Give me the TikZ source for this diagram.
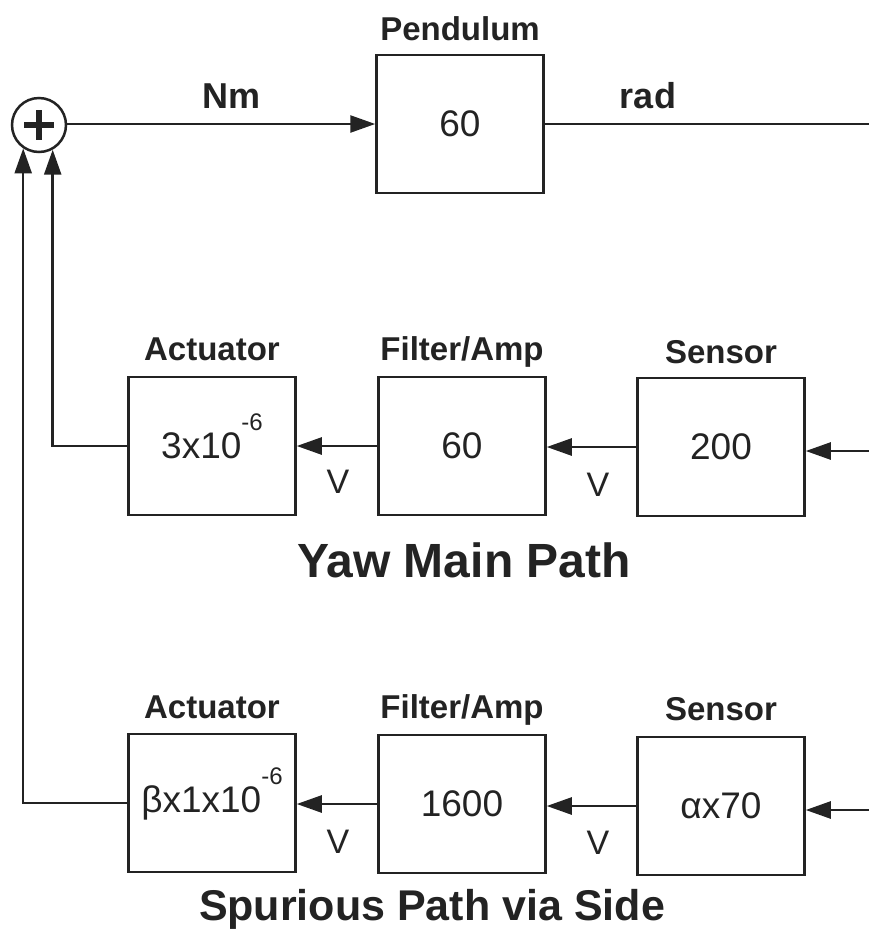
\documentclass[tikz,border=0pt]{standalone}
\usepackage{fontspec}
\setmainfont{Liberation Sans}
\usetikzlibrary{arrows.meta}
\definecolor{ink}{RGB}{35,35,35}
\begin{document}
\begin{tikzpicture}[x=1pt,y=-1pt,
  blk/.style={draw=ink, line width=2.5pt, minimum width=167pt, minimum height=138pt, inner sep=0pt, text=ink, font=\fontsize{37}{40}\selectfont},
  ttl/.style={anchor=base, text=ink, inner sep=0pt, font=\bfseries\fontsize{33}{36}\selectfont},
  unitlbl/.style={anchor=base, text=ink, inner sep=0pt, font=\bfseries\fontsize{36}{38}\selectfont},
  vlbl/.style={anchor=center, text=ink, inner sep=0pt, font=\fontsize{34}{36}\selectfont},
  big/.style={anchor=base, text=ink, inner sep=0pt, font=\bfseries\fontsize{48}{50}\selectfont},
  wire/.style={draw=ink, line width=2.5pt},
  arr/.style={wire, -{Triangle[length=25pt,width=17pt]}},
]
\fill[white] (0,0) rectangle (869,938);
\useasboundingbox (0,0) rectangle (869,938);

% summing junction
\node[circle, draw=ink, line width=2.5pt, minimum size=54pt, inner sep=0pt] (sum) at (39,125) {};
\draw[ink, line width=5.5pt] (24,125) -- (54,125) (39,110) -- (39,140);

% pendulum
\node[blk] (pend) at (460,124) {60};
\node[ttl] (tpend) at (460,40) {Pendulum};
\node[unitlbl] (nm) at (232,108) {Nm};
\node[unitlbl] (rad) at (648,108) {rad};
\coordinate (out) at (869,124);
\draw[arr] (sum.east |- pend.west) -- (pend.west);
\draw[wire] (pend.east) -- (out);

% yaw main path
\node[blk] (act1) at (212,446) {3x10\smash{\raisebox{28pt}{\fontsize{24}{24}\selectfont -6}}};
\node[blk] (fil1) at (462,446) {60};
\node[blk] (sen1) at (721,447) {200};
\node[ttl] (tact1) at (212,360) {Actuator};
\node[ttl] (tfil1) at (462,360) {Filter/Amp};
\node[ttl] (tsen1) at (721,363) {Sensor};
\node[vlbl] (v1a) at (338,482) {V};
\node[vlbl] (v1b) at (598,485) {V};
\coordinate (in1) at (869,451);
\draw[arr] (in1) -- (in1 -| sen1.east);
\draw[arr] (sen1.west) -- (sen1.west -| fil1.east);
\draw[arr] (fil1.west) -- (fil1.west -| act1.east);
\draw[arr] (act1.west) -| (sum.-61);
\node[big] (yaw) at (464,577) {Yaw Main Path};

% spurious path
\node[blk] (act2) at (212,803) {βx1x10\smash{\raisebox{28pt}{\fontsize{24}{24}\selectfont -6}}};
\node[blk] (fil2) at (462,804) {1600};
\node[blk] (sen2) at (721,806) {αx70};
\node[ttl] (tact2) at (212,718) {Actuator};
\node[ttl] (tfil2) at (462,718) {Filter/Amp};
\node[ttl] (tsen2) at (721,720) {Sensor};
\node[vlbl] (v2a) at (338,842) {V};
\node[vlbl] (v2b) at (598,843) {V};
\coordinate (in2) at (869,810);
\draw[arr] (in2) -- (in2 -| sen2.east);
\draw[arr] (sen2.west) -- (sen2.west -| fil2.east);
\draw[arr] (fil2.west) -- (fil2.west -| act2.east);
\draw[arr] (act2.west) -| (sum.-124);
\node[big, font=\bfseries\fontsize{43}{46}\selectfont] (spur) at (432,920) {Spurious Path via Side};
\end{tikzpicture}
\end{document}
